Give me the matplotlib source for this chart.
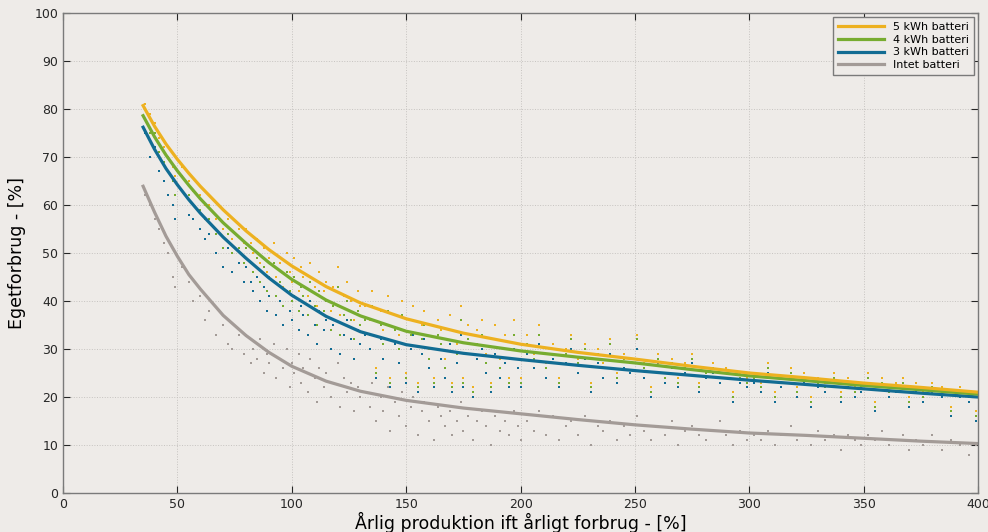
import matplotlib
matplotlib.use("Agg")
import matplotlib.pyplot as plt

# fitted curves: x = annual production relative to consumption [%]
curve_x = [35, 40, 45, 50, 55, 60, 70, 80, 90, 100, 115, 130, 150, 175,
           200, 225, 250, 275, 300, 325, 350, 375, 400]
curve_5kwh = [80.7, 76.4, 72.7, 69.5, 66.6, 63.9, 59.0, 54.6, 50.7, 47.3, 43.0, 39.6,
              36.3, 33.3, 31.0, 29.3, 27.9, 26.4, 25.0, 24.0, 22.9, 22.0, 21.0]
curve_4kwh = [78.6, 74.2, 70.4, 67.1, 64.1, 61.3, 56.3, 52.0, 48.0, 44.5, 40.2, 36.9,
              33.7, 31.3, 29.6, 28.3, 27.1, 25.7, 24.4, 23.4, 22.4, 21.5, 20.6]
curve_3kwh = [76.2, 71.6, 67.6, 64.2, 61.1, 58.3, 53.3, 48.9, 44.8, 41.2, 36.8, 33.6,
              30.9, 29.1, 27.8, 26.6, 25.5, 24.5, 23.5, 22.6, 21.7, 20.8, 20.0]
curve_none = [63.9, 58.5, 53.5, 49.3, 45.5, 42.5, 37.0, 32.8, 29.3, 26.4, 23.3, 21.2,
              19.3, 17.7, 16.5, 15.3, 14.2, 13.3, 12.5, 12.0, 11.4, 10.8, 10.3]

# individual households (same x for every battery size)
prod = [36, 38, 40, 42, 44, 46, 48, 49,
        52, 55, 57, 60, 62, 64, 67, 70, 72, 74, 77, 79,
        80, 82, 83, 85, 86, 88, 89, 90, 92, 93, 95, 96, 98, 99, 100, 101, 103, 104,
        105, 107, 108, 110, 111, 112, 114, 115, 117, 118, 120, 121, 123, 124, 126, 127,
        129, 130,
        132, 134, 135, 137, 139, 140, 142, 143, 145, 147, 148, 150, 152, 153, 155, 157,
        158, 160, 162, 164, 165, 167, 169, 170, 172, 174, 175, 177, 179, 181, 183, 185,
        187, 189, 191, 193, 195, 197, 199, 200,
        203, 206, 208, 211, 214, 217, 220, 222, 225, 228, 231, 234, 236, 239, 242, 245,
        248, 251, 254, 257, 260, 263, 266, 269, 272, 275, 278, 281, 284, 287, 290, 293,
        296, 299,
        302, 305, 308, 311, 314, 318, 321, 324, 327, 330, 333, 337, 340, 343, 346, 349,
        352, 355, 358, 361, 364, 367, 370, 373, 376, 380, 384, 388, 392, 396, 399]
self_none = [62, 60, 57, 55, 52, 50, 45, 43,
             47, 44, 40, 41, 36, 38, 33, 35, 31, 30, 33, 29,
             33, 27, 30, 28, 32, 25, 29, 27, 31, 24, 28, 26, 30, 22, 27, 25, 29, 23,
             26, 21, 28, 24, 19, 26, 22, 25, 20, 23, 27, 18, 24, 21, 23, 17,
             22, 20,
             21, 18, 23, 15, 20, 17, 22, 13, 19, 16, 21, 14, 18, 20, 12, 17,
             19, 15, 11, 18, 16, 14, 17, 12, 15, 19, 13, 16, 11, 15, 17, 14,
             10, 16, 13, 15, 12, 17, 14, 11,
             15, 13, 17, 12, 16, 11, 14, 15, 12, 16, 10, 14, 13, 15, 11, 14,
             12, 16, 13, 11, 14, 12, 15, 10, 13, 14, 12, 11, 13, 15, 12, 10,
             13, 11,
             12, 11, 13, 10, 12, 14, 11, 12, 10, 13, 11, 12, 9, 12, 11, 10,
             12, 11, 13, 10, 11, 12, 9, 11, 10, 12, 9, 11, 10, 8, 10]
self_3kwh = [75, 70, 72, 67, 65, 62, 60, 57,
             63, 58, 57, 55, 53, 54, 50, 47, 51, 46, 48, 44,
             47, 44, 42, 45, 40, 43, 38, 41, 44, 37, 40, 35, 42, 38, 36, 41, 34, 39,
             37, 33, 40, 35, 31, 38, 34, 36, 30, 35, 39, 29, 33, 36, 32, 28,
             34, 31,
             33, 30, 36, 24, 32, 28, 35, 22, 31, 27, 34, 23, 30, 33, 21, 29,
             32, 26, 22, 30, 28, 24, 31, 21, 27, 33, 22, 29, 20, 28, 30, 25,
             21, 29, 24, 27, 22, 30, 26, 22,
             29, 26, 31, 24, 28, 22, 27, 30, 25, 28, 21, 27, 24, 29, 23, 26,
             25, 30, 24, 20, 27, 23, 26, 22, 25, 27, 21, 24, 25, 23, 24, 19,
             23, 22,
             23, 21, 25, 19, 22, 24, 20, 23, 18, 22, 21, 23, 19, 22, 20, 21,
             23, 17, 22, 20, 21, 22, 18, 21, 19, 21, 20, 16, 20, 19, 15]
self_4kwh = [78, 75, 75, 71, 69, 67, 65, 62,
             66, 62, 60, 59, 57, 57, 54, 51, 54, 50, 51, 48,
             51, 48, 46, 49, 44, 47, 42, 45, 48, 41, 44, 39, 46, 42, 40, 45, 38, 43,
             41, 37, 44, 39, 35, 42, 38, 40, 34, 39, 43, 33, 37, 40, 36, 32,
             38, 35,
             36, 33, 39, 25, 35, 31, 38, 23, 34, 30, 37, 24, 33, 36, 22, 32,
             35, 28, 23, 33, 31, 26, 34, 22, 29, 36, 23, 32, 21, 31, 33, 27,
             22, 32, 26, 30, 23, 33, 28, 23,
             31, 28, 33, 26, 30, 23, 29, 32, 27, 30, 22, 29, 26, 31, 24, 28,
             27, 32, 26, 21, 28, 24, 27, 23, 26, 28, 22, 25, 26, 24, 25, 20,
             24, 23,
             24, 22, 26, 20, 23, 25, 21, 24, 19, 23, 22, 24, 20, 23, 21, 22,
             24, 18, 23, 21, 22, 23, 19, 22, 20, 22, 21, 17, 21, 20, 16]
self_5kwh = [81, 79, 77, 74, 72, 70, 68, 66,
             68, 65, 63, 62, 60, 60, 57, 55, 57, 53, 55, 52,
             55, 52, 50, 53, 48, 51, 46, 49, 52, 45, 48, 43, 50, 46, 44, 49, 42, 47,
             45, 41, 48, 43, 39, 46, 42, 44, 38, 43, 47, 37, 41, 44, 40, 36,
             42, 39,
             39, 36, 42, 26, 38, 34, 41, 24, 37, 33, 40, 25, 36, 39, 23, 35,
             38, 30, 24, 36, 34, 28, 37, 23, 31, 39, 24, 35, 22, 34, 36, 29,
             23, 35, 28, 33, 24, 36, 31, 24,
             33, 29, 35, 27, 31, 24, 30, 33, 28, 31, 23, 30, 27, 32, 25, 29,
             28, 33, 27, 22, 29, 25, 28, 24, 27, 29, 23, 26, 27, 25, 26, 21,
             25, 24,
             25, 23, 27, 21, 24, 26, 22, 25, 20, 24, 23, 25, 21, 24, 22, 23,
             25, 19, 24, 22, 23, 24, 20, 23, 21, 23, 22, 18, 22, 21, 17]

bg = '#eeebe8'
c5 = '#edb120'
c4 = '#77ac30'
c3 = '#126c93'
c0 = '#a39b97'

fig = plt.figure(figsize=(9.88, 5.32), dpi=100, facecolor=bg)
ax = fig.add_axes([0.0638, 0.0733, 0.9262, 0.9023])
ax.set_facecolor(bg)

ms = 1.6
ax.plot(prod, self_none, 's', color=c0, ms=ms, mew=0)
ax.plot(prod, self_3kwh, 's', color=c3, ms=ms, mew=0)
ax.plot(prod, self_4kwh, 's', color=c4, ms=ms, mew=0)
ax.plot(prod, self_5kwh, 's', color=c5, ms=ms, mew=0)

l0, = ax.plot(curve_x, curve_none, color=c0, lw=2.3)
l3, = ax.plot(curve_x, curve_3kwh, color=c3, lw=2.3)
l4, = ax.plot(curve_x, curve_4kwh, color=c4, lw=2.3)
l5, = ax.plot(curve_x, curve_5kwh, color=c5, lw=2.3)

ax.set_xlim(0, 400)
ax.set_ylim(0, 100)
ax.set_xticks(range(0, 401, 50))
ax.set_yticks(range(0, 101, 10))
ax.grid(True, linestyle=':', color='#c6c3c0', lw=0.7)
ax.tick_params(direction='in', top=True, right=True, labelsize=9,
               colors='#262626', length=5)
for s in ax.spines.values():
    s.set_color('#7a7a7a')
    s.set_linewidth(1.0)

ax.set_xlabel('Årlig produktion ift årligt forbrug - [%]', fontsize=12.5, labelpad=1)
ax.set_ylabel('Egetforbrug - [%]', fontsize=12.5, labelpad=6)

leg = ax.legend([l5, l4, l3, l0],
                ['5 kWh batteri', '4 kWh batteri', '3 kWh batteri', 'Intet batteri'],
                loc='upper right', fontsize=8, handlelength=4.2, fancybox=False,
                framealpha=1, borderaxespad=0.4, labelspacing=0.25)
leg.get_frame().set_facecolor(bg)
leg.get_frame().set_edgecolor('#7a7a7a')

fig.savefig('out.png', dpi=100, facecolor=bg)
